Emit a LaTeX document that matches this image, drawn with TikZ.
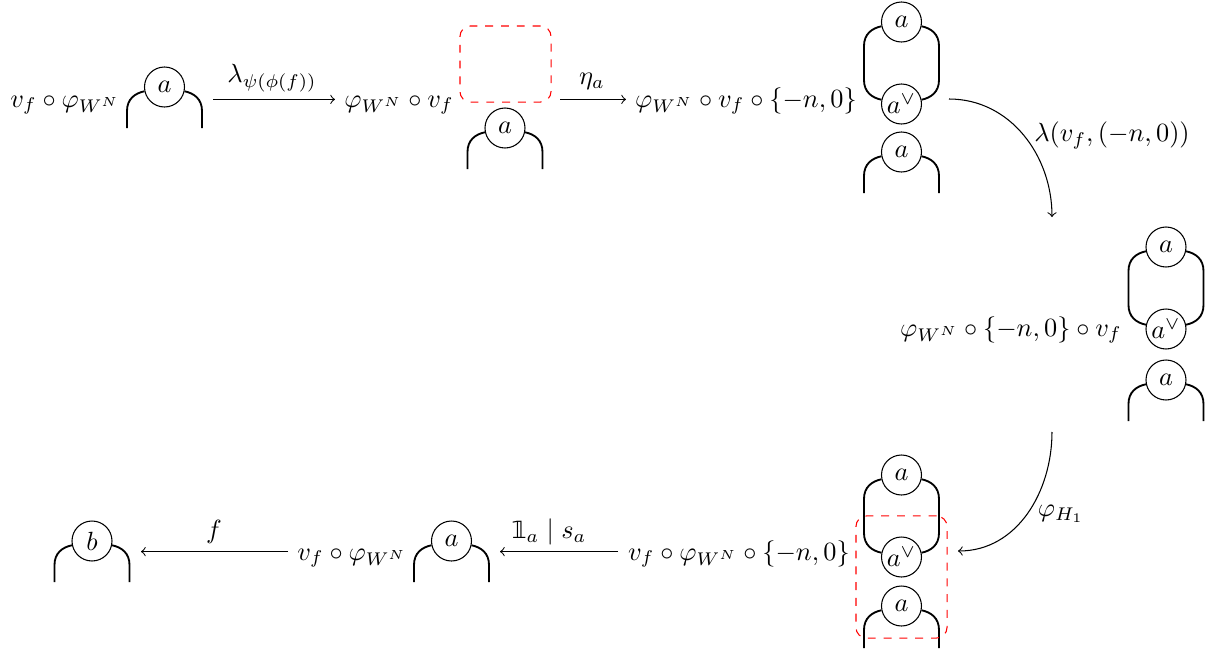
\documentclass[tikz,border=0pt]{standalone}
\usepackage{amsmath,amssymb}
\usepackage{fontspec}
\newfontfamily\dsfont{DejaVu Sans}
\newcommand{\dsone}{\mbox{\dsfont\fontsize{9pt}{9pt}\selectfont\symbol{"1D7D9}}}
\usetikzlibrary{calc}
\tikzset{
  x=0.38pt,y=-0.38pt,
  gate/.style={circle,draw,line width=0.4pt,fill=white,minimum size=15.2pt,inner sep=0pt},
  leg/.style={line width=0.7pt},
  arr/.style={->,line width=0.4pt},
  redbox/.style={draw=red,dashed,line width=0.4pt,rounded corners=4pt},
  term/.style={anchor=base,inner sep=0pt},
  lab/.style={inner sep=0pt}
}
% cap: circle with two legs going down
\newcommand{\capgad}[5]{% name,x,y,label,bottom
  \node[gate] (#1) at (#2,#3) {$#4$};
  \draw[leg] (#1.192) .. controls ($(#1.192)+(-9.5,2)$) and ($(#2-37.5,#3+12)$) .. (#2-37.5,#3+24) -- (#2-37.5,#5);
  \draw[leg] (#1.-12) .. controls ($(#1.-12)+(9.5,2)$) and ($(#2+37.5,#3+12)$) .. (#2+37.5,#3+24) -- (#2+37.5,#5);
}
% loop: top circle, bottom circle
\newcommand{\loopgad}[4]{% top name,bottom name,x,ytop / ybottom computed
  \node[gate] (#1) at (#3,#4) {$a$};
  \node[gate] (#2) at (#3,#4+82) {$a^\vee$};
  \draw[leg] (#1.192) .. controls ($(#1.192)+(-9.5,2)$) and (#3-37.5,#4+12) .. (#3-37.5,#4+24) -- (#3-37.5,#4+58)
     .. controls (#3-37.5,#4+70) and ($(#2.168)+(-9.5,-2)$) .. (#2.168);
  \draw[leg] (#1.-12) .. controls ($(#1.-12)+(9.5,2)$) and (#3+37.5,#4+12) .. (#3+37.5,#4+24) -- (#3+37.5,#4+58)
     .. controls (#3+37.5,#4+70) and ($(#2.12)+(9.5,-2)$) .. (#2.12);
}
\begin{document}
\begin{tikzpicture}
\useasboundingbox (0,0) rectangle (1205,651);
% gadgets
\capgad{ga}{164.5}{87}{a}{128}
\capgad{gb}{505}{128}{a}{169}
\loopgad{gct}{gcb}{901.5}{22}
\capgad{gc}{901.5}{152}{a}{193}
\loopgad{gdt}{gdb}{1166}{247}
\capgad{gd}{1166}{380}{a}{421}
\loopgad{get}{geb}{901.5}{475}
\capgad{ge}{901.5}{606}{a}{648}
\capgad{gf}{451.5}{541}{a}{582}
\capgad{gg}{92}{541}{b}{582}
% red boxes
\node[redbox,minimum width=34.6pt,minimum height=28.9pt,inner sep=0pt] (ra) at (505.5,64) {};
\node[redbox,minimum width=34.6pt,minimum height=46.4pt,inner sep=0pt] (rb) at (901.5,577) {};
% terms
\node[term] (t1) at (65,107) {$v_f\circ\varphi_{W^N}$};
\node[term] (t2) at (399,107) {$\varphi_{W^N}\circ v_f$};
\node[term] (t3) at (746,107) {$\varphi_{W^N}\circ v_f\circ\{-n,0\}$};
\node[term] (t4) at (1011,336) {$\varphi_{W^N}\circ\{-n,0\}\circ v_f$};
\node[term] (t5) at (739,560) {$v_f\circ\varphi_{W^N}\circ\{-n,0\}$};
\node[term] (t6) at (352,560) {$v_f\circ\varphi_{W^N}$};
% connector ends
\coordinate (a1s) at (213,99.4); \coordinate (a1e) at (335,99.4);
\coordinate (a2s) at (560,99.4); \coordinate (a2e) at (626,99.4);
\coordinate (a3s) at (949,99); \coordinate (a3e) at (1052,217);
\coordinate (a4s) at (1052,432); \coordinate (a4e) at (958,551);
\coordinate (a5s) at (618,551.6); \coordinate (a5e) at (500,551.6);
\coordinate (a6s) at (288,551.6); \coordinate (a6e) at (141,551.6);
\draw[arr] (a1s) -- (a1e);
\draw[arr] (a2s) -- (a2e);
\draw[arr] (a3s) to[out=0,in=90] (a3e);
\draw[arr] (a4s) to[out=-90,in=0] (a4e);
\draw[arr] (a5s) -- (a5e);
\draw[arr] (a6s) -- (a6e);
% labels
\node[lab] (l1) at (272,78) {$\lambda_{\psi(\phi(f))}$};
\node[lab] (l2) at (592,81) {$\eta_a$};
\node[lab] (l3) at (1112,135) {$\lambda(v_f,(-n,0))$};
\node[lab] (l4) at (1061,514) {$\varphi_{H_1}$};
\node[lab] (l5) at (549,532) {$\dsone_a\mid s_a$};
\node[lab] (l6) at (214,532) {$f$};
\end{tikzpicture}
\end{document}
